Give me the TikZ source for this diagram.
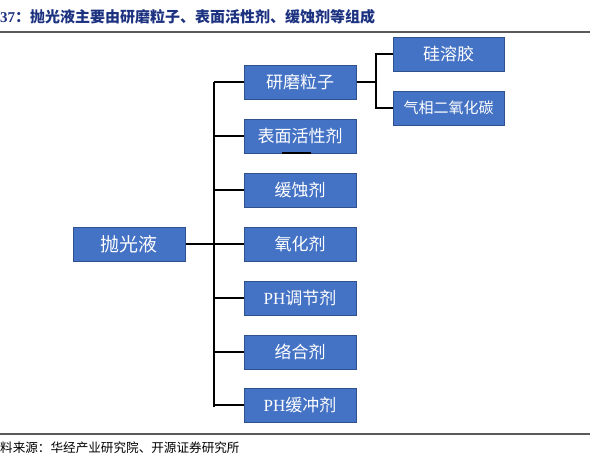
\documentclass[tikz,border=0pt]{standalone}
\usepackage{fontspec}
\setmainfont{Liberation Serif}
\newfontfamily\cjk{Noto Sans CJK SC}
\usepackage{tikz}
\usetikzlibrary{calc, positioning}
\definecolor{BoxBlue}{RGB}{68,114,196}
\definecolor{BoxEdge}{RGB}{47,82,143}
\definecolor{TitleBlue}{RGB}{28,50,128}
\definecolor{rulegrey}{RGB}{90,90,90}

\tikzset{
  part/.style={draw=BoxEdge, line width=1pt, fill=BoxBlue, text=white,
    minimum width=112pt, minimum height=34pt, inner sep=0pt,
    font=\fontsize{17}{20}\selectfont},
  link/.style={line width=1.8pt, black}
}

\begin{document}
\begin{tikzpicture}[x=1pt, y=-1pt]
  \useasboundingbox (0,0) rectangle (590,466);

  % heading and source line
  \node[anchor=west, inner sep=0pt, text=TitleBlue, font=\fontsize{15}{18}\selectfont\bfseries]
    (title) at (0,17) {37\cjk ：抛光液主要由研磨粒子、表面活性剂、缓蚀剂等组成};
  \draw[rulegrey, line width=1.5pt] (0,32) -- (590,32);
  \draw[rulegrey, line width=1.2pt] (0,434) -- (590,434);
  \node[anchor=west, inner sep=0pt, font=\fontsize{12.6}{15}\selectfont\cjk]
    (source) at (0,448) {料来源：华经产业研究院、开源证券研究所};

  % boxes
  \node[part, font=\fontsize{19}{22}\selectfont] (root) at (129,244) {\cjk 抛光液};
  \node[part] (b1) at (300,82)  {\cjk 研磨粒子};
  \node[part] (b2) at (300,136) {\cjk 表面活性剂};
  \node[part] (b3) at (300,190) {\cjk 缓蚀剂};
  \node[part] (b4) at (300,244) {\cjk 氧化剂};
  \node[part] (b5) at (300,298) {PH{\cjk 调节剂}};
  \node[part] (b6) at (300,352) {\cjk 络合剂};
  \node[part] (b7) at (300,405) {PH{\cjk 缓冲剂}};
  \node[part, minimum width=111pt] (s1) at (448.5,54)  {\cjk 硅溶胶};
  \node[part, minimum width=111pt, font=\fontsize{15}{18}\selectfont] (s2) at (448.5,108) {\cjk 气相二氧化碳};
  \draw[black, line width=1.6pt] (282,153) -- (311,153);

  % connectors
  \coordinate (trunk) at (214,0);
  \coordinate (fork) at (376,0);
  \draw[link] (root.east) -- (root.east -| trunk);
  \draw[link] (b1.west -| trunk) -- ($(b7.west -| trunk)+(0,2)$);
  \foreach \i in {1,...,7} {
    \draw[link] (b\i.west) -- (b\i.west -| trunk);
  }
  \draw[link] (b1.east) -- (b1.east -| fork);
  \draw[link] (s1.west) -- (s1.west -| fork) -- (s2.west -| fork) -- (s2.west);
\end{tikzpicture}
\end{document}
